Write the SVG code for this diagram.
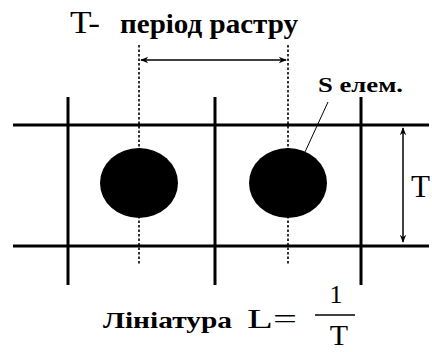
<svg xmlns="http://www.w3.org/2000/svg" width="432" height="352" viewBox="0 0 432 352">
<defs>
<style>
.grid{stroke:#000;stroke-width:3;fill:none}
.dot{stroke:#000;stroke-width:1.6;stroke-dasharray:2.5 2;fill:none}
.conn{stroke:#000;stroke-width:1.5;fill:none}
.reg{fill:#000}
.bold{font-weight:bold;fill:#000}
.dot-el{fill:#000}
</style>
<marker id="ah" viewBox="0 0 10 10" refX="9" refY="5" markerWidth="10" markerHeight="8" markerUnits="userSpaceOnUse" orient="auto-start-reverse">
<path d="M0,1 L10,5 L0,9 L3,5 Z" fill="#000"/>
</marker>
</defs>
<rect width="432" height="352" fill="#fff"/>
<g id="grid">
<line class="grid" x1="13" y1="125" x2="429" y2="125"/>
<line class="grid" x1="13" y1="246" x2="429" y2="246"/>
<line class="grid" x1="68" y1="97" x2="68" y2="285"/>
<line class="grid" x1="215" y1="97" x2="215" y2="285"/>
<line class="grid" x1="361" y1="97" x2="361" y2="285"/>
</g>
<g id="element-1"><ellipse class="dot-el" cx="139" cy="183" rx="39" ry="35"/></g>
<g id="element-2"><ellipse class="dot-el" cx="288" cy="183" rx="39" ry="35"/></g>
<g id="connectors">
<line class="dot" x1="139" y1="45" x2="139" y2="265"/>
<line class="dot" x1="288" y1="45" x2="288" y2="265"/>
<line class="conn" x1="141" y1="60" x2="286" y2="60" marker-start="url(#ah)" marker-end="url(#ah)"/>
<line class="conn" x1="403" y1="128" x2="403" y2="242" marker-start="url(#ah)" marker-end="url(#ah)"/>
<line x1="328" y1="102" x2="305" y2="152" stroke="#000" stroke-width="1"/>
</g>
<g id="title" font-family="'Liberation Serif', 'DejaVu Serif', serif">
<text class="reg" x="70" y="33" font-size="31" textLength="30" lengthAdjust="spacingAndGlyphs">T-</text>
<text class="bold" x="120" y="33" font-size="27" textLength="178" lengthAdjust="spacingAndGlyphs">період растру</text>
</g>
<g id="label-s" font-family="'Liberation Serif', 'DejaVu Serif', serif"><text class="bold" x="318" y="92" font-size="22" textLength="85" lengthAdjust="spacingAndGlyphs">S елем.</text></g>
<g id="label-t" font-family="'Liberation Serif', 'DejaVu Serif', serif"><text class="reg" x="411" y="197" font-size="31" textLength="19" lengthAdjust="spacingAndGlyphs">T</text></g>
<g id="formula" font-family="'Liberation Serif', 'DejaVu Serif', serif">
<text class="bold" x="103" y="328" font-size="24" textLength="129" lengthAdjust="spacingAndGlyphs">Лініатура</text>
<text class="reg" x="247" y="328" font-size="27" textLength="50" lengthAdjust="spacingAndGlyphs">L=</text>
<text class="reg" x="336" y="303" font-size="26" text-anchor="middle">1</text>
<line x1="315" y1="315" x2="355" y2="315" stroke="#000" stroke-width="1.5"/>
<text class="reg" x="339" y="345" font-size="30" text-anchor="middle">T</text>
</g>
</svg>
